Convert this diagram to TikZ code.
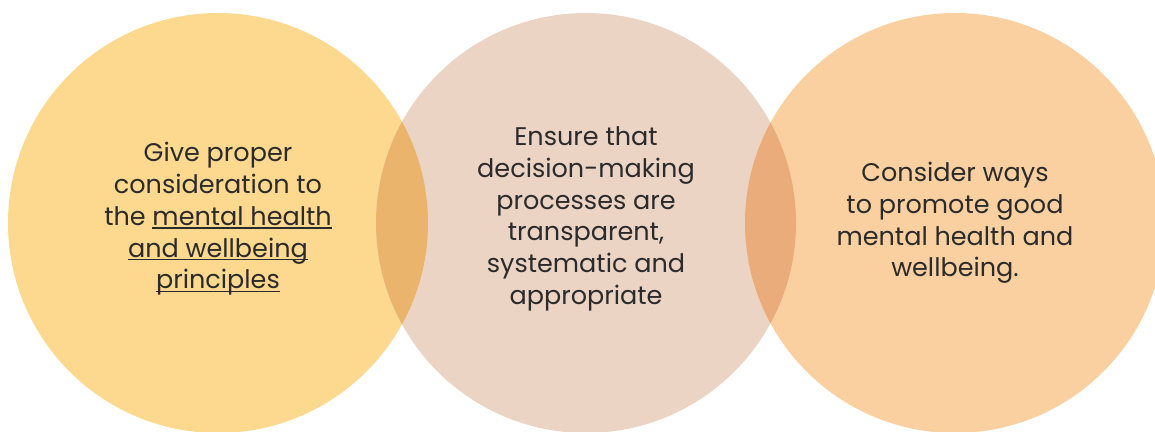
\documentclass[tikz,border=0pt]{standalone}
\usepackage{fontspec}
\setmainfont{Poppins}
\definecolor{circA}{HTML}{FDD88F}
\definecolor{circB}{HTML}{ECD4C4}
\definecolor{circC}{HTML}{FAD0A0}
\definecolor{lensAB}{HTML}{EBB46C}
\definecolor{lensBC}{HTML}{E9AC7A}
\definecolor{ink}{HTML}{2B2B2B}
% underline at a fixed depth below the baseline
\newcommand\linkline[1]{\setbox0\hbox{#1}\rlap{\color{ink}\rule[-3.4pt]{\wd0}{1.3pt}}\box0}
\tikzset{
  disc/.style={circle, minimum size=420pt, inner sep=0pt, draw=none},
  caption/.style={align=center, text=ink, font=\fontsize{25.5}{31.7}\selectfont, inner sep=0pt}
}
\begin{document}
\begin{tikzpicture}[x=1pt,y=-1pt]
\useasboundingbox (0,0) rectangle (1155,431);
\clip (0,0) rectangle (1155,431);
% the three discs
\node[disc, fill=circA] (c1) at (218,223) {};
\node[disc, fill=circB] (c2) at (586,223) {};
\node[disc, fill=circC] (c3) at (955,223) {};
% overlapping lenses
\begin{scope}
  \clip (218,223) circle[radius=210];
  \fill[lensAB] (586,223) circle[radius=210];
\end{scope}
\begin{scope}
  \clip (586,223) circle[radius=210];
  \fill[lensBC] (955,223) circle[radius=210];
\end{scope}
% captions
\node[caption] (t1) at (218,219) {Give proper\\consideration to\\the \linkline{mental health}\\\linkline{and wellbeing}\\\linkline{principles}};
\node[caption] (t2) at (586,219) {Ensure that\\decision-making\\processes are\\transparent,\\systematic and\\appropriate};
\node[caption] (t3) at (955,223) {Consider ways\\to promote good\\mental health and\\wellbeing.};
\end{tikzpicture}
\end{document}
